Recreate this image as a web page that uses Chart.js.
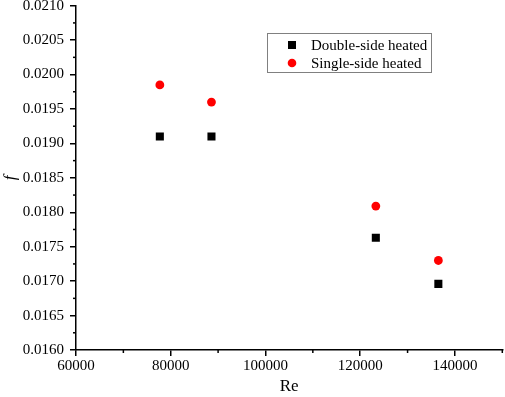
<!DOCTYPE html>
<html><head><meta charset="utf-8">
<script src="https://cdn.jsdelivr.net/npm/chart.js@4/dist/chart.umd.min.js"></script>
<style>html,body{margin:0;padding:0;background:#fff;overflow:hidden;}#wrap{width:505px;height:397px;overflow:hidden;}</style>
</head><body><div id="wrap"><canvas id="c" width="508" height="397"></canvas></div>
<script>
const seriesNames = ['Double-side heated', 'Single-side heated'];
const reDouble = [77700, 88600, 123300, 136500];
const fDouble = [0.01910, 0.01910, 0.01763, 0.01696];
const reSingle = [77700, 88600, 123300, 136500];
const fSingle = [0.01985, 0.01960, 0.01809, 0.01730];
const xTicks = [60000, 80000, 100000, 120000, 140000];
const yTicks = [0.0160,0.0165,0.0170,0.0175,0.0180,0.0185,0.0190,0.0195,0.0200,0.0205,0.0210];

const FONT = '"Liberation Serif", "DejaVu Serif", serif';

const minorTicks = {
  id: 'minorTicks',
  afterDraw(chart) {
    const ctx = chart.ctx, xs = chart.scales.x, ys = chart.scales.y;
    ctx.save();
    ctx.strokeStyle = '#000'; ctx.lineWidth = 1.5;
    for (let v = 70000; v <= 150000; v += 20000) {
      const px = xs.getPixelForValue(v);
      ctx.beginPath(); ctx.moveTo(px, xs.top); ctx.lineTo(px, xs.top + 3); ctx.stroke();
    }
    for (let i = 0; i < yTicks.length - 1; i++) {
      const py = ys.getPixelForValue((yTicks[i] + yTicks[i+1]) / 2);
      ctx.beginPath(); ctx.moveTo(ys.right, py); ctx.lineTo(ys.right - 3, py); ctx.stroke();
    }
    ctx.restore();
  }
};

const legendBox = {
  id: 'legendBox',
  afterDraw(chart) {
    const ctx = chart.ctx;
    ctx.save();
    const x0 = 267, y0 = 33, w = 164, h = 39;
    ctx.strokeStyle = '#808080'; ctx.lineWidth = 1;
    ctx.strokeRect(x0 + 0.5, y0 + 0.5, w, h);
    ctx.font = '15px ' + FONT; ctx.fillStyle = '#000'; ctx.textBaseline = 'middle';
    const ds = chart.data.datasets;
    const rows = [45, 63];
    ds.forEach((d, i) => {
      const cy = rows[i];
      ctx.fillStyle = d.backgroundColor;
      if (d.pointStyle === 'rect') { ctx.fillRect(288, cy - 4, 8, 8); }
      else { ctx.beginPath(); ctx.arc(292, cy, 4.3, 0, Math.PI * 2); ctx.fill(); }
      ctx.fillStyle = '#000';
      ctx.fillText(d.label, 311, cy + 1);
    });
    ctx.restore();
  }
};

new Chart(document.getElementById('c'), {
  type: 'scatter',
  data: {
    datasets: [
      { label: seriesNames[0], data: reDouble.map((x, i) => ({x, y: fDouble[i]})),
        pointStyle: 'rect', pointRadius: 5.7, backgroundColor: '#000', borderWidth: 0 },
      { label: seriesNames[1], data: reSingle.map((x, i) => ({x, y: fSingle[i]})),
        pointStyle: 'circle', pointRadius: 4.4, backgroundColor: '#ff0000', borderWidth: 0 }
    ]
  },
  options: {
    responsive: false, animation: false,
    layout: { padding: { top: 5, right: 1.5, left: 0, bottom: 0 } },
    plugins: { legend: { display: false }, tooltip: { enabled: false } },
    scales: {
      x: {
        type: 'linear', min: 60000, max: 150000,
        afterBuildTicks: s => { s.ticks = xTicks.map(v => ({value: v})); },
        ticks: { color: '#000', font: { family: FONT, size: 15 }, padding: 1, maxRotation: 0,
                 callback: v => String(v) },
        grid: { drawOnChartArea: false, tickLength: 6, color: '#000', lineWidth: 1.5 },
        border: { color: '#000', width: 1.5 },
        title: { display: true, text: 'Re', color: '#000', font: { family: FONT, size: 17 }, padding: { top: 0, bottom: 0 } },
        afterFit: s => { s.height = 47; s.paddingLeft = 0; s.paddingRight = 0; }
      },
      y: {
        type: 'linear', min: 0.0160, max: 0.0210,
        afterBuildTicks: s => { s.ticks = yTicks.map(v => ({value: v})); },
        ticks: { color: '#000', font: { family: FONT, size: 15 }, padding: 6,
                 callback: v => v.toFixed(4) },
        grid: { drawOnChartArea: false, tickLength: 6, color: '#000', lineWidth: 1.5 },
        border: { color: '#000', width: 1.5 },
        title: { display: true, text: 'f', color: '#000', font: { family: FONT, size: 17, style: 'italic' }, padding: { top: 0, bottom: 0 } },
        afterFit: s => { s.width = 76; s.paddingTop = 0; s.paddingBottom = 0; }
      }
    }
  },
  plugins: [minorTicks, legendBox]
});
</script></body></html>
